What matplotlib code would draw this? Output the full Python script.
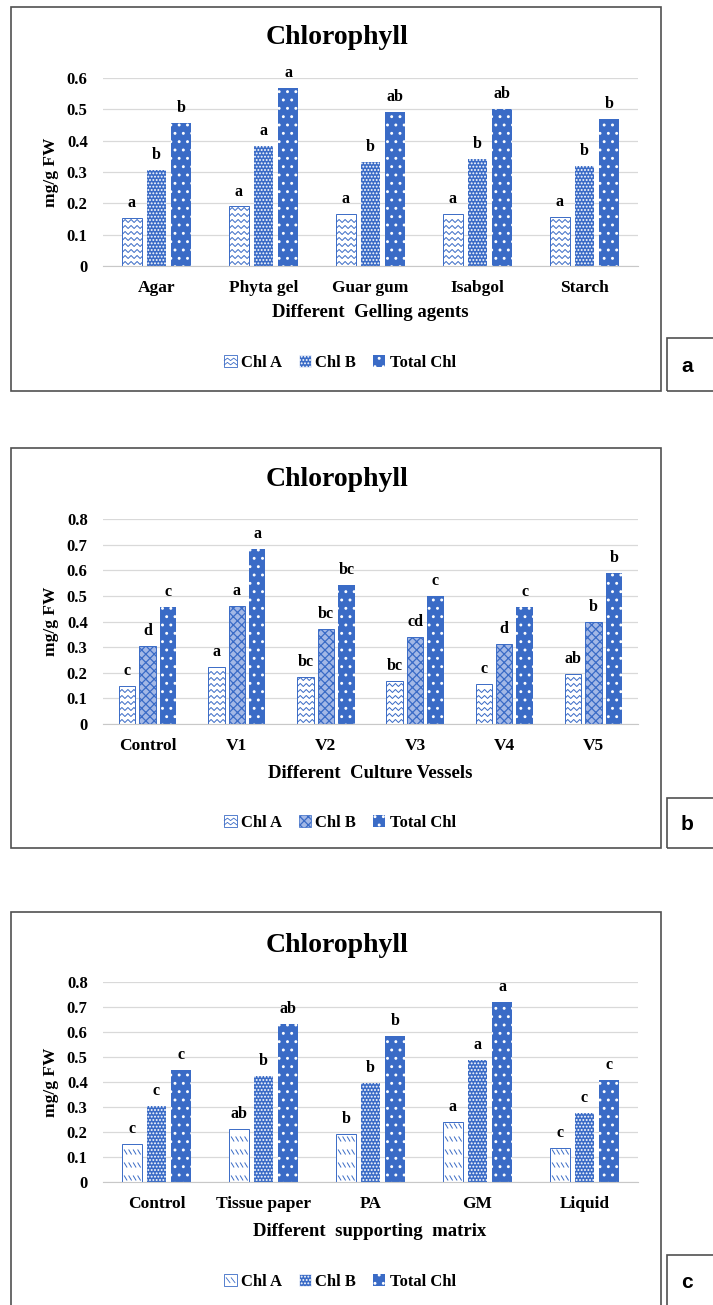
import matplotlib
matplotlib.use('Agg')
import matplotlib.pyplot as plt
import numpy as np
from matplotlib.patches import Rectangle
from matplotlib.collections import LineCollection
from matplotlib.lines import Line2D
from matplotlib.legend_handler import HandlerPatch

W, H = 713, 1305
BLUE = '#3A6BC6'
plt.rcParams['font.family'] = ['Liberation Serif', 'DejaVu Serif']
plt.rcParams['font.weight'] = 'bold'
plt.rcParams['hatch.linewidth'] = 0.9

series = ['Chl A', 'Chl B', 'Total Chl']

# panel a - gelling agents
gel_cats = ['Agar', 'Phyta gel', 'Guar gum', 'Isabgol', 'Starch']
gel_a = [0.153, 0.190, 0.166, 0.166, 0.157]
gel_b = [0.307, 0.383, 0.331, 0.341, 0.318]
gel_t = [0.456, 0.568, 0.493, 0.502, 0.470]
gel_let_a = ['a', 'a', 'a', 'a', 'a']
gel_let_b = ['b', 'a', 'b', 'b', 'b']
gel_let_t = ['b', 'a', 'ab', 'ab', 'b']

# panel b - culture vessels
ves_cats = ['Control', 'V1', 'V2', 'V3', 'V4', 'V5']
ves_a = [0.150, 0.224, 0.184, 0.168, 0.156, 0.197]
ves_b = [0.305, 0.461, 0.370, 0.341, 0.313, 0.400]
ves_t = [0.456, 0.683, 0.542, 0.498, 0.456, 0.589]
ves_let_a = ['c', 'a', 'bc', 'bc', 'c', 'ab']
ves_let_b = ['d', 'a', 'bc', 'cd', 'd', 'b']
ves_let_t = ['c', 'a', 'bc', 'c', 'c', 'b']

# panel c - supporting matrix
mat_cats = ['Control', 'Tissue paper', 'PA', 'GM', 'Liquid']
mat_a = [0.152, 0.212, 0.193, 0.241, 0.136]
mat_b = [0.305, 0.423, 0.396, 0.489, 0.276]
mat_t = [0.448, 0.632, 0.585, 0.720, 0.407]
mat_let_a = ['c', 'ab', 'b', 'a', 'c']
mat_let_b = ['c', 'b', 'b', 'a', 'c']
mat_let_t = ['c', 'ab', 'b', 'a', 'c']


def fx(x):
    return x / W


def fy(y):
    return 1 - y / H


def pattern_a(ax, bars, style):
    # zigzag / dash fill of the Chl A bars
    pos = ax.get_position()
    x0l, x1l = ax.get_xlim()
    y0l, y1l = ax.get_ylim()
    sx = (x1l - x0l) / (pos.width * W)
    sy = (y1l - y0l) / (pos.height * H)
    for b in bars:
        bx, bw, bh = b.get_x(), b.get_width(), b.get_height()
        segs = []
        if style == 'zig':
            half = 3 * sx
            nx = int(bw / half) + 3
            xs = bx + half * np.arange(nx)
            y = 1.5 * sy
            while y + 3.5 * sy < bh:
                segs.append(np.column_stack([xs, y + 3 * sy * (np.arange(nx) % 2)]))
                y += 6 * sy
        else:
            y = 1.5 * sy
            while y + 5.5 * sy < bh:
                xx = bx + 2 * sx
                while xx + 3 * sx < bx + bw:
                    segs.append([(xx, y + 5 * sy), (xx + 3 * sx, y)])
                    xx += 4.5 * sx
                y += 13 * sy
        lc = LineCollection(segs, colors=BLUE, linewidths=0.7)
        ax.add_collection(lc)
        lc.set_clip_path(b)


class HandlerA(HandlerPatch):
    def __init__(self, style):
        super().__init__()
        self.style = style

    def create_artists(self, legend, orig_handle, xdescent, ydescent,
                       width, height, fontsize, trans):
        x0, y0 = -xdescent, -ydescent
        arts = [Rectangle((x0, y0), width, height, facecolor='white',
                          edgecolor=BLUE, lw=0.6, transform=trans)]
        if self.style == 'zig':
            xs = np.linspace(x0, x0 + width, 5)
            for k in (0.2, 0.55):
                ys = y0 + height * (k + 0.2 * (np.arange(5) % 2))
                arts.append(Line2D(xs, ys, color=BLUE, lw=0.6, transform=trans))
        else:
            for k in (0.3, 0.7):
                arts.append(Line2D([x0 + width * (k - 0.15), x0 + width * (k + 0.15)],
                                   [y0 + height * 0.7, y0 + height * 0.3],
                                   color=BLUE, lw=0.6, transform=trans))
        return arts


fig = plt.figure(figsize=(W / 100, H / 100), dpi=100)

panels = [
    dict(cats=gel_cats, vals=[gel_a, gel_b, gel_t], lets=[gel_let_a, gel_let_b, gel_let_t],
         ymax=0.6, xlabel='Different  Gelling agents', astyle='zig', bstyle='dots',
         top=78, bottom=266, frame=(7, 391), title_y=37, xlab_y=313, leg_y=363,
         box=(338, 391), tag='a'),
    dict(cats=ves_cats, vals=[ves_a, ves_b, ves_t], lets=[ves_let_a, ves_let_b, ves_let_t],
         ymax=0.8, xlabel='Different  Culture Vessels', astyle='zig', bstyle='cross',
         top=519, bottom=724, frame=(448, 848), title_y=480, xlab_y=773, leg_y=823,
         box=(798, 848), tag='b'),
    dict(cats=mat_cats, vals=[mat_a, mat_b, mat_t], lets=[mat_let_a, mat_let_b, mat_let_t],
         ymax=0.8, xlabel='Different  supporting  matrix', astyle='dash', bstyle='dots',
         top=982, bottom=1182, frame=(912, 1310), title_y=945, xlab_y=1232, leg_y=1282,
         box=(1255, 1310), tag='c'),
]

b_styles = {
    'dots': dict(facecolor=BLUE, edgecolor='white', hatch='.....', lw=0),
    'cross': dict(facecolor='#A3B8E6', edgecolor=BLUE, hatch='xxxx', lw=0.7),
}

for p in panels:
    # outer frame and tag box
    fig.patches.append(Rectangle((fx(11), fy(p['frame'][1])), fx(661) - fx(11),
                                 fy(p['frame'][0]) - fy(p['frame'][1]), transform=fig.transFigure,
                                 fill=False, edgecolor='#505050', lw=1.2))
    fig.patches.append(Rectangle((fx(667), fy(p['box'][1])), fx(60),
                                 fy(p['box'][0]) - fy(p['box'][1]), transform=fig.transFigure,
                                 fill=False, edgecolor='#505050', lw=1.2))
    fig.text(fx(687), fy((p['box'][0] + min(p['box'][1], 1305)) / 2 + 2), p['tag'],
             ha='center', va='center', fontsize=15, fontweight='bold',
             family=['Liberation Sans', 'DejaVu Sans'])

    ax = fig.add_axes([fx(103), fy(p['bottom']), fx(638) - fx(103),
                       (p['bottom'] - p['top']) / H])
    n = len(p['cats'])
    x = np.arange(n)
    ax.set_xlim(-0.5, n - 0.5)
    ax.set_ylim(0, p['ymax'])
    ax.set_axisbelow(True)
    ax.grid(axis='y', color='#D9D9D9', lw=0.9)
    for s in ['left', 'right', 'top']:
        ax.spines[s].set_visible(False)
    ax.spines['bottom'].set_color('#C8C8C8')
    ax.tick_params(length=0)
    ax.tick_params(axis='y', pad=11, labelsize=12)
    ax.tick_params(axis='x', pad=10, labelsize=12.5)
    yt = np.round(np.arange(0, p['ymax'] + 0.01, 0.1), 1)
    ax.set_yticks(yt)
    ax.set_yticklabels(['{:g}'.format(v) for v in yt])
    ax.set_xticks(x)
    ax.set_xticklabels(p['cats'])

    w = 0.185
    off = 0.229
    va, vb, vt = p['vals']
    bars_a = ax.bar(x - off, va, w, facecolor='white', edgecolor=BLUE, lw=0.7)
    bars_b = ax.bar(x, vb, w, **b_styles[p['bstyle']])
    bars_t = ax.bar(x + off, vt, w, facecolor=BLUE, edgecolor='white', hatch='..', lw=0)
    pattern_a(ax, bars_a, p['astyle'])

    for bars, lets in zip([bars_a, bars_b, bars_t], p['lets']):
        for b, t in zip(bars, lets):
            ax.annotate(t, (b.get_x() + b.get_width() / 2, b.get_height()),
                        xytext=(0, 5), textcoords='offset points',
                        ha='center', va='bottom', fontsize=11.5, fontweight='bold')

    fig.text(fx(51), fy((p['top'] + p['bottom']) / 2), 'mg/g FW', rotation=90,
             ha='center', va='center', fontsize=12.5, fontweight='bold')
    fig.text(fx(337), fy(p['title_y']), 'Chlorophyll', ha='center', va='center',
             fontsize=20, fontweight='bold')
    fig.text(fx(370), fy(p['xlab_y']), p['xlabel'], ha='center', va='center',
             fontsize=13.5, fontweight='bold')

    proxy_a = Rectangle((0, 0), 1, 1)
    proxy_b = Rectangle((0, 0), 1, 1, **dict(b_styles[p['bstyle']], lw=0.5))
    proxy_t = Rectangle((0, 0), 1, 1, facecolor=BLUE, edgecolor='white', hatch='..', lw=0)
    fig.legend([proxy_a, proxy_b, proxy_t], series, loc='center',
               bbox_to_anchor=(fx(340), fy(p['leg_y'])), ncol=3, frameon=False,
               handlelength=0.75, handleheight=0.75, handletextpad=0.25,
               columnspacing=1.0, prop=dict(family='Liberation Serif', weight='bold', size=12),
               handler_map={proxy_a: HandlerA(p['astyle'])})

fig.savefig('out.png', dpi=100)
